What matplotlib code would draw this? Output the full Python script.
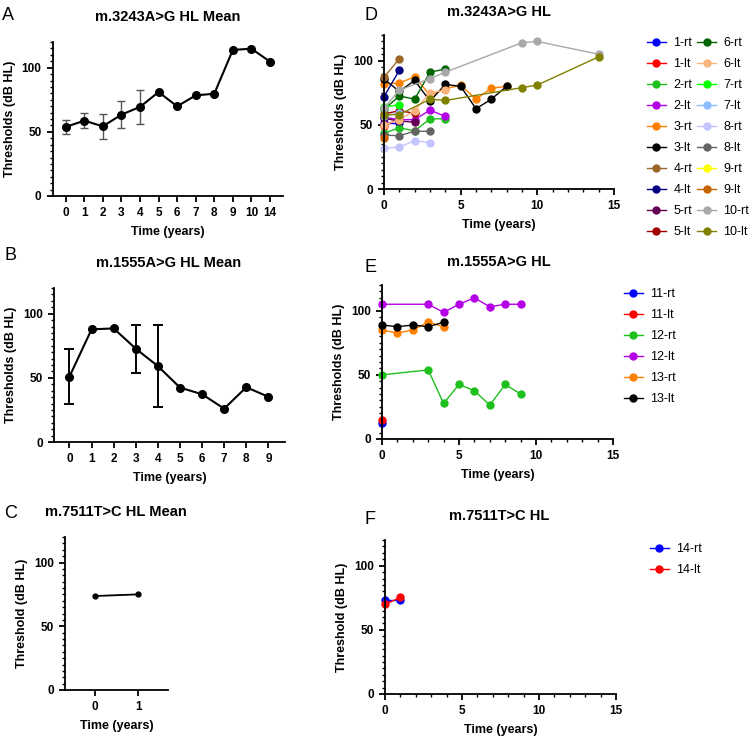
import matplotlib
matplotlib.use("Agg")
import matplotlib.pyplot as plt
from matplotlib.ticker import MultipleLocator
import numpy as np

plt.rcParams['font.family'] = ['Liberation Sans', 'DejaVu Sans']

W, H = 750, 737

# ---------------- data ----------------
a_labels = ['0', '1', '2', '3', '4', '5', '6', '7', '8', '9', '10', '14']
a_mean = [53.8, 58.7, 54.3, 63.4, 69.4, 81.0, 69.9, 78.4, 79.7, 113.8, 114.8, 104.7]
a_err = [5.3, 6.1, 9.5, 10.4, 13.0, 0, 0, 0, 0, 0, 0, 0]

b_labels = ['0', '1', '2', '3', '4', '5', '6', '7', '8', '9']
b_mean = [51.0, 87.8, 88.5, 72.7, 59.1, 42.4, 37.2, 26.0, 42.7, 35.2]
b_err = [21.2, 0, 0, 18.8, 31.8, 0, 0, 0, 0, 0]

c_labels = ['0', '1']
c_mean = [73.7, 75.0]

d_names = ['1-rt', '1-lt', '2-rt', '2-lt', '3-rt', '3-lt', '4-rt', '4-lt', '5-rt', '5-lt',
           '6-rt', '6-lt', '7-rt', '7-lt', '8-rt', '8-lt', '9-rt', '9-lt', '10-rt', '10-lt']
d_colors = ['#0000ff', '#ff0000', '#1ec01e', '#b400e6', '#ff8000', '#000000', '#9c6628', '#000080',
            '#660055', '#a00000', '#006400', '#f8b47c', '#00ff00', '#8cbcff', '#c4c4ff', '#646464',
            '#ffff00', '#c86400', '#a8a8a8', '#808000']
d_x = [[0, 1], [0, 1], [0, 1, 2, 3, 4], [0, 1, 2, 3, 4], [0, 1, 2, 3, 4, 5, 6, 7, 8],
       [0, 1, 2, 3, 4, 5, 6, 7, 8], [0, 1], [0, 1], [0, 1, 2], [0, 1, 2],
       [0, 1, 2, 3, 4], [0, 1, 2, 3, 4], [0, 1], [0, 1], [0, 1, 2, 3], [0, 1, 2, 3],
       [], [0], [0, 1, 3, 4, 9, 10, 14], [0, 1, 3, 4, 9, 10, 14]]
d_y = [[51.5, 51.5], [49, 55], [43.5, 47.7, 45.3, 54.7, 54.7], [56, 54, 54, 61.5, 56.5],
       [82, 82.5, 87.5, 73, 78, 81, 70, 78.5, 80], [85.7, 76, 84.6, 68.5, 81.5, 80, 62.5, 70, 80],
       [87, 101.5], [72, 92.5], [55, 53, 52], [58.5, 61, 59],
       [62, 72.5, 70, 91, 93.5], [50, 54, 61, 75, 77], [64, 65.5], [57, 59],
       [31.8, 32.6, 37.7, 36.2], [42, 41.5, 45, 45],
       [], [40], [63, 77, 86, 91, 114, 115, 105], [58, 58, 70, 69, 79, 81, 103]]

e_names = ['11-rt', '11-lt', '12-rt', '12-lt', '13-rt', '13-lt']
e_colors = ['#0000ff', '#ff0000', '#1ec01e', '#b400e6', '#ff8000', '#000000']
e_x = [[0], [0], [0, 3, 4, 5, 6, 7, 8, 9], [0, 3, 4, 5, 6, 7, 8, 9], [0, 1, 2, 3, 4], [0, 1, 2, 3, 4]]
e_y = [[12.5], [15], [50, 53.8, 27.7, 42.5, 37.6, 26.4, 42.5, 35],
       [105, 105, 98.7, 105, 110, 103, 105, 105], [85, 82.5, 85, 91, 87.5], [88.8, 87.5, 88.8, 87.5, 91]]

f_names = ['14-rt', '14-lt']
f_colors = ['#0000ff', '#ff0000']
f_x = [[0, 1], [0, 1]]
f_y = [[73.4, 73.4], [69.8, 75.3]]

# ---------------- helpers ----------------
fig = plt.figure(figsize=(W / 100, H / 100), dpi=100)


def add_ax(l, r, t, b):
    return fig.add_axes([l / W, 1 - b / H, (r - l) / W, (b - t) / H])


def style(ax):
    for s in ['top', 'right']:
        ax.spines[s].set_visible(False)
    for s in ['left', 'bottom']:
        ax.spines[s].set_linewidth(1.3)
    ax.tick_params(which='major', direction='out', length=4.5, width=1.3, labelsize=8.5)
    ax.tick_params(which='minor', direction='out', length=2.5, width=1.0)
    for lab in ax.get_xticklabels() + ax.get_yticklabels():
        lab.set_fontweight('bold')
    ax.set_ylim(0, 120)
    ax.yaxis.set_major_locator(MultipleLocator(50))
    ax.yaxis.set_minor_locator(MultipleLocator(5))


def ftext(x, y, s, **kw):
    fig.text(x / W, 1 - y / H, s, **kw)


tfs = 10.5
lfs = 9

# ---------------- Panel A ----------------
ax = add_ax(52.7, 283, 42, 196)
xa = np.arange(len(a_labels))
ax.plot(xa, a_mean, color='black', lw=1.5, marker='o', ms=5.5, zorder=3)
ia = [i for i, e in enumerate(a_err) if e > 0]
ax.errorbar([xa[i] for i in ia], [a_mean[i] for i in ia], yerr=[a_err[i] for i in ia],
            fmt='none', ecolor='#555555', elinewidth=1.0, capsize=3, capthick=1.0, zorder=2)
ax.set_xticks(xa)
ax.set_xticklabels(a_labels)
ax.set_xlim(-0.7, 11.7)
style(ax)
ax.set_ylabel('Thresholds (dB HL)', fontsize=lfs, fontweight='bold', labelpad=4)
ax.set_xlabel('Time (years)', fontsize=lfs, fontweight='bold', labelpad=5)
ftext(168, 17, 'm.3243A>G HL Mean', fontsize=tfs, fontweight='bold', ha='center', va='center')
ftext(2, 15, 'A', fontsize=13, ha='left', va='center')

# ---------------- Panel B ----------------
ax = add_ax(54, 285, 288, 442)
xb = np.arange(len(b_labels))
ax.plot(xb, b_mean, color='black', lw=1.5, marker='o', ms=5.5, zorder=3)
ib = [i for i, e in enumerate(b_err) if e > 0]
ax.errorbar([xb[i] for i in ib], [b_mean[i] for i in ib], yerr=[b_err[i] for i in ib],
            fmt='none', ecolor='black', elinewidth=1.4, capsize=3.5, capthick=1.4, zorder=2)
ax.set_xticks(xb)
ax.set_xticklabels(b_labels)
ax.set_xlim(-0.7, 9.75)
style(ax)
ax.set_ylabel('Thresholds (dB HL)', fontsize=lfs, fontweight='bold', labelpad=4)
ax.set_xlabel('Time (years)', fontsize=lfs, fontweight='bold', labelpad=5)
ftext(169, 263, 'm.1555A>G HL Mean', fontsize=tfs, fontweight='bold', ha='center', va='center')
ftext(5, 255, 'B', fontsize=13, ha='left', va='center')

# ---------------- Panel C ----------------
ax = add_ax(65, 168, 537, 690)
xc = np.arange(len(c_labels))
ax.plot(xc, c_mean, color='black', lw=1.3, marker='o', ms=3.5, zorder=3)
ax.set_xticks(xc)
ax.set_xticklabels(c_labels)
ax.set_xlim(-0.69, 1.69)
style(ax)
ax.set_ylabel('Threshold (dB HL)', fontsize=lfs, fontweight='bold', labelpad=4)
ax.set_xlabel('Time (years)', fontsize=lfs, fontweight='bold', labelpad=5)
ftext(45, 512, 'm.7511T>C HL Mean', fontsize=tfs, fontweight='bold', ha='left', va='center')
ftext(4, 513, 'C', fontsize=13, ha='left', va='center')


# ---------------- Panels D, E, F ----------------
def spaghetti(rect, names, colors, xs, ys, title, title_y, letter, letter_y, ylabel,
              leg_xy, ncol):
    ax = add_ax(*rect)
    for n, c, x, y in zip(names, colors, xs, ys):
        ax.plot(x, y, color=c, lw=1.0, marker='o', ms=5, label=n, clip_on=False)
    ax.set_xlim(0, 15)
    ax.xaxis.set_major_locator(MultipleLocator(5))
    ax.xaxis.set_minor_locator(MultipleLocator(1))
    style(ax)
    ax.set_ylabel(ylabel, fontsize=lfs, fontweight='bold', labelpad=4)
    ax.set_xlabel('Time (years)', fontsize=lfs, fontweight='bold', labelpad=5)
    ftext(499, title_y, title, fontsize=tfs, fontweight='bold', ha='center', va='center')
    ftext(364, letter_y, letter, fontsize=13, ha='left', va='center')
    ax.legend(loc='upper left', bbox_to_anchor=(leg_xy[0] / W, 1 - leg_xy[1] / H),
              bbox_transform=fig.transFigure, frameon=False, ncol=ncol, fontsize=9,
              handlelength=1.5, handletextpad=0.6, columnspacing=0.4, labelspacing=0.72,
              borderaxespad=0, borderpad=0)
    return ax


spaghetti((384, 614, 35, 189), d_names, d_colors, d_x, d_y, 'm.3243A>G HL', 12, 'D', 15,
          'Thresholds (dB HL)', (647, 37), 2)
spaghetti((382, 613, 285, 439), e_names, e_colors, e_x, e_y, 'm.1555A>G HL', 262, 'E', 268,
          'Thresholds (dB HL)', (624, 288), 1)
spaghetti((385, 616, 540, 694), f_names, f_colors, f_x, f_y, 'm.7511T>C HL', 516, 'F', 519,
          'Threshold (dB HL)', (650, 543), 1)

fig.savefig('out.png', dpi=100)
